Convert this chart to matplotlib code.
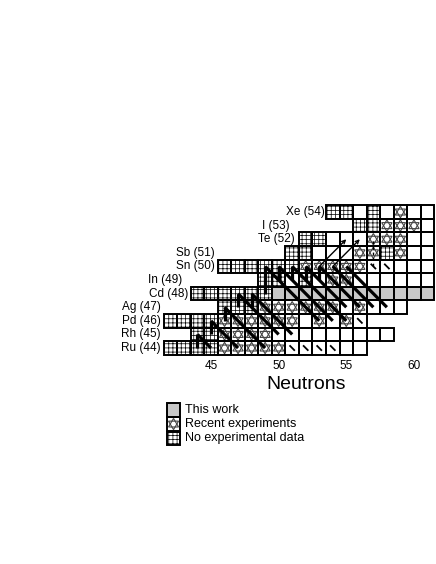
import matplotlib
matplotlib.use("Agg")
import matplotlib.pyplot as plt
from matplotlib.patches import Rectangle, Polygon

plt.rcParams['font.family'] = ['Liberation Sans', 'DejaVu Sans']
plt.rcParams['hatch.linewidth'] = 0.55

# ---------------- data ----------------
# element rows: proton number, label, first neutron number, cell types
# types: H = no experimental data, S = recent experiments, G = this work, W = known
Z_rows = [44, 45, 46, 47, 48, 49, 50, 51, 52, 53, 54]
elements = ["Ru", "Rh", "Pd", "Ag", "Cd", "In", "Sn", "Sb", "Te", "I", "Xe"]
first_N = [42, 44, 42, 46, 44, 49, 46, 51, 52, 56, 54]
cell_types = [
    "HHHHSSSSSWWWWWW",          # Ru 42-56
    "HHSSSSWWWWWWWWW",          # Rh 44-58
    "HHHHSSSSSSWSWSW",          # Pd 42-56
    "HHHSSSSSSWSWWW",           # Ag 46-59
    "HHHHHHGGGGGGGGGGGG",       # Cd 44-61
    "HHWHWSSWWWWWW",            # In 49-61
    "HHHHHHSSSSSWWWWW",         # Sn 46-61
    "HHWWWSSHSWW",              # Sb 51-61
    "HHWWWSSSWW",               # Te 52-61
    "HHSSSW",                   # I 56-61
    "HHWHWSWW",                 # Xe 54-61
]
# label right-edge positions (neutron units) per row
label_right = [41.3, 41.3, 41.3, 41.3, 43.3, 42.9, 45.3, 45.3, 51.2, 50.8, 53.4]

# rp-process flow: proton captures (vertical) N, Z_from, Z_to
pg_N = [44, 45, 46, 47, 48, 49, 50, 51, 52, 53]
pg_Z0 = [44, 45, 46, 47, 47, 48, 49, 49, 49, 49]
pg_Z1 = [45, 46, 47, 48, 48, 50, 50, 50, 50, 50]
# beta decays: start N, start Z, chain length
beta_N0 = [44, 45, 46, 47, 48, 49, 50, 51, 52, 53, 54, 55]
beta_Z0 = [45, 46, 47, 48, 48, 50, 50, 50, 50, 50, 50, 50]
beta_L = [1, 2, 3, 3, 3, 4, 4, 4, 3, 3, 3, 3]
# alpha decays (Te -> Sn) drawn thin: start N, start Z
alpha_N = [53, 54]
alpha_Z = [50, 50]
# weak flows: small ticks
tick_N = [51, 52, 53, 54, 56, 57, 58]
tick_Z = [44, 44, 44, 44, 46, 50, 50]

xticks = [45, 50, 55, 60]
legend_labels = ["This work", "Recent experiments", "No experimental data"]
legend_types = ["G", "S", "H"]

# ---------------- figure ----------------
fig = plt.figure(figsize=(4.36, 5.64), dpi=100)
ax = fig.add_axes([0, 0, 1, 1])
ax.set_xlim(29.405, 61.63)
ax.set_ylim(28.12, 69.59)
ax.axis("off")

GRAY = "#c8c8c8"


def draw_cell(n, z, t, w=1.0, h=1.0):
    x0, y0 = n - w / 2, z - h / 2
    if t == "G":
        ax.add_patch(Rectangle((x0, y0), w, h, facecolor=GRAY, edgecolor="none", zorder=1))
    elif t == "H":
        ax.add_patch(Rectangle((x0, y0), w, h, facecolor="white", edgecolor="#111111",
                               hatch="++++", linewidth=0, zorder=1))
    elif t == "S":
        ax.add_patch(Rectangle((x0, y0), w, h, facecolor="white", edgecolor="none", zorder=1))
        up = [(n - 0.38 * w, z - 0.22 * h), (n + 0.38 * w, z - 0.22 * h), (n, z + 0.42 * h)]
        dn = [(n - 0.38 * w, z + 0.22 * h), (n + 0.38 * w, z + 0.22 * h), (n, z - 0.42 * h)]
        for tri in (up, dn):
            ax.add_patch(Polygon(tri, closed=True, fill=False, edgecolor="#444444",
                                 linewidth=0.8, zorder=2))
    else:
        ax.add_patch(Rectangle((x0, y0), w, h, facecolor="white", edgecolor="none", zorder=1))
    ax.add_patch(Rectangle((x0, y0), w, h, fill=False, edgecolor="black",
                           linewidth=1.4, zorder=3))


for z, el, n0, types, lr in zip(Z_rows, elements, first_N, cell_types, label_right):
    for i, t in enumerate(types):
        draw_cell(n0 + i, z, t)
    ax.text(lr, z, f"{el} ({z})", ha="right", va="center", fontsize=8.5)

# flows
for n, z0, z1 in zip(pg_N, pg_Z0, pg_Z1):
    ax.plot([n, n], [z0, z1], color="black", lw=2.3, solid_capstyle="butt", zorder=5)
for n, z, L in zip(beta_N0, beta_Z0, beta_L):
    ax.plot([n, n + L], [z, z - L], color="black", lw=2.3, solid_capstyle="butt", zorder=5)
for n, z in zip(alpha_N, alpha_Z):
    ax.annotate("", xy=(n, z), xytext=(n + 2, z + 2),
                arrowprops=dict(arrowstyle="<-", lw=1.0, color="black",
                                shrinkA=0, shrinkB=0, mutation_scale=6), zorder=5)
ax.plot([57, 57], [50, 52], color="black", lw=1.0, ls=(0, (2, 2)), zorder=5)
for n, z in zip(tick_N, tick_Z):
    ax.plot([n - 0.15, n + 0.15], [z + 0.15, z - 0.15], color="black", lw=1.3, zorder=5)

# axis ticks
for n in xticks:
    ax.text(n, 42.65, str(n), ha="center", va="center", fontsize=8.5)
ax.text(52.0, 41.35, "Neutrons", ha="center", va="center", fontsize=14)

# legend
leg_N = 42.23
leg_Z = [39.44, 38.41, 37.35]
for lab, t, z in zip(legend_labels, legend_types, leg_Z):
    draw_cell(leg_N, z, t, w=0.98, h=0.98)
    ax.text(43.08, z, lab, ha="left", va="center", fontsize=9)

fig.savefig("out.png", dpi=100)
